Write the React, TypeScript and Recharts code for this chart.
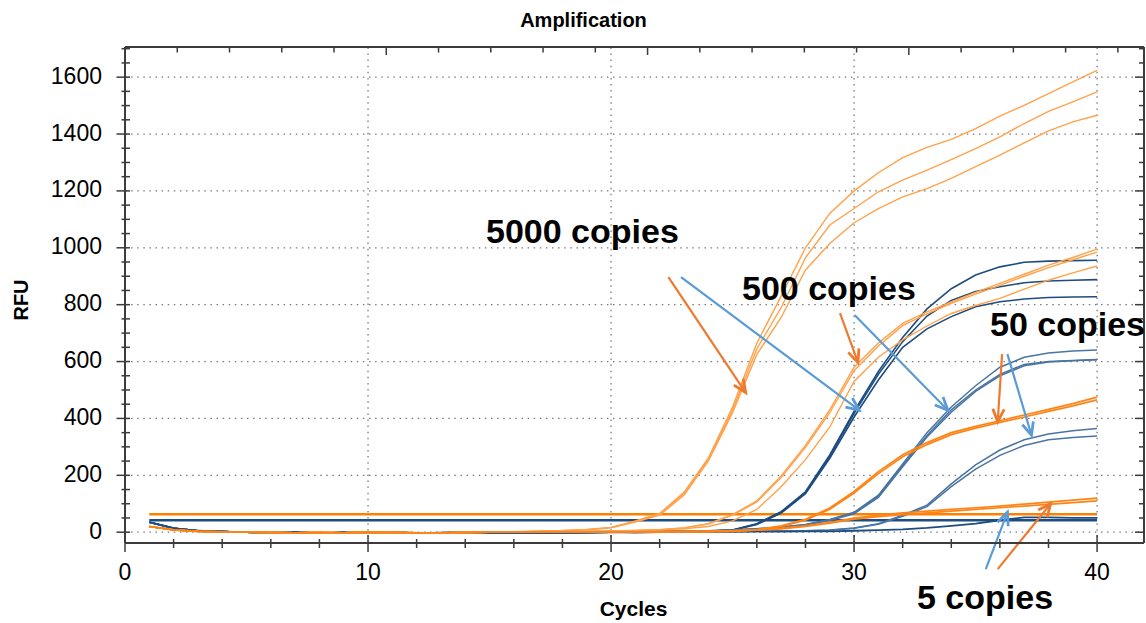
import React from "react";
import { LineChart, Line, XAxis, YAxis, ReferenceLine } from "recharts";

// x categories (cycle numbers)
const CYCLES = [
  1, 2, 3, 4, 5, 6, 7, 8, 9, 10, 11, 12, 13, 14, 15, 16, 17, 18, 19, 20,
  21, 22, 23, 24, 25, 26, 27, 28, 29, 30, 31, 32, 33, 34, 35, 36, 37, 38, 39, 40,
];

// shared early baseline, cycles 1..15
const BASE_BLUE = [35, 14, 5, 2, 0, -2, 0, -3, -1, -2, 0, -3, -2, -1, -2];
const BASE_ORANGE = [20, 8, 3, 1, 0, -1, -2, -1, -2, 0, -1, -2, -2, -1, 0];

// curves, cycles 16..40
// 5000 copies, orange
const A1 = [2, 4, 6, 10, 17, 40, 66, 140, 260, 440, 665, 830, 1000, 1121, 1200, 1264, 1317, 1353, 1381, 1419, 1463, 1501, 1542, 1583, 1624];
const A2 = [1, 3, 5, 9, 16, 38, 63, 136, 255, 430, 645, 790, 965, 1080, 1138, 1197, 1238, 1273, 1310, 1349, 1390, 1437, 1480, 1513, 1548];
const A3 = [1, 3, 5, 8, 15, 36, 60, 130, 250, 420, 625, 755, 922, 1015, 1088, 1138, 1179, 1208, 1244, 1285, 1326, 1369, 1411, 1443, 1466];
// 5000 copies, blue
const B1 = [-2, -1, -2, -1, 0, 0, 1, 2, 3, 8, 30, 72, 142, 272, 425, 565, 685, 785, 856, 904, 933, 949, 953, 955, 956];
const B2 = [-2, -1, -2, -1, 0, 0, 1, 2, 3, 8, 29, 70, 140, 268, 418, 555, 670, 760, 815, 846, 863, 877, 883, 886, 888];
const B3 = [-2, -1, -2, -1, 0, 0, 1, 2, 3, 7, 27, 67, 135, 260, 405, 535, 650, 715, 758, 793, 810, 820, 825, 827, 828];
// 500 copies, orange
const C1 = [0, 1, 2, 3, 4, 6, 9, 15, 30, 62, 110, 198, 305, 430, 580, 665, 734, 775, 810, 843, 875, 907, 939, 966, 995];
const C2 = [0, 1, 2, 3, 4, 6, 9, 15, 29, 60, 106, 192, 298, 420, 568, 655, 726, 768, 805, 837, 868, 900, 930, 958, 985];
const C3 = [0, 1, 2, 3, 4, 5, 8, 12, 20, 40, 80, 160, 255, 370, 530, 615, 676, 725, 769, 797, 822, 855, 886, 912, 936];
// 500 copies, blue
const D1 = [-2, -1, 0, -1, 0, 1, 2, 3, 5, 8, 12, 18, 27, 45, 70, 130, 240, 350, 440, 515, 580, 615, 630, 637, 641];
const D2 = [-2, -1, 0, -1, 0, 1, 2, 3, 5, 8, 12, 17, 26, 43, 68, 126, 235, 340, 430, 500, 555, 590, 600, 604, 607];
const D3 = [-2, -1, 0, -1, 0, 1, 2, 3, 4, 7, 11, 16, 25, 41, 65, 122, 230, 335, 422, 495, 550, 585, 598, 603, 606];
// 50 copies, orange
const E1 = [0, 0, 1, 0, 1, 1, 2, 2, 3, 5, 9, 22, 45, 85, 143, 213, 272, 315, 350, 372, 392, 412, 432, 452, 475];
const E2 = [0, 0, 1, 0, 1, 1, 2, 2, 3, 5, 8, 20, 42, 81, 138, 206, 265, 308, 343, 366, 386, 405, 425, 444, 465];
// 50 copies, blue
const F1 = [-1, 0, -1, 0, 0, 1, 1, 2, 2, 3, 3, 4, 5, 8, 15, 30, 60, 95, 170, 237, 289, 325, 345, 357, 365];
const F2 = [-1, 0, -1, 0, 0, 1, 1, 2, 2, 3, 3, 4, 5, 7, 14, 28, 56, 90, 160, 222, 270, 305, 325, 333, 338];
// 5 copies, orange
const G1 = [0, 0, 0, 1, 1, 1, 1, 2, 2, 4, 8, 14, 22, 35, 50, 60, 68, 74, 80, 86, 92, 99, 106, 113, 120];
const G2 = [0, 0, 0, 1, 1, 1, 1, 2, 2, 3, 7, 12, 20, 32, 46, 55, 62, 68, 74, 80, 86, 92, 98, 104, 110];
// 5 copies, blue
const H1 = [-2, -1, -2, -1, 0, -1, 0, 0, 1, 1, 2, 2, 3, 3, 5, 7, 10, 15, 22, 30, 42, 52, 52, 50, 50];

// flat lines across the run
const ORANGE_FLAT = 63;
const BLUE_FLAT = 42;

const X_TICKS = [0, 2, 4, 6, 8, 10, 12, 14, 16, 18, 20, 22, 24, 26, 28, 30, 32, 34, 36, 38, 40];
const Y_TICKS = [
  0, 50, 100, 150, 200, 250, 300, 350, 400, 450, 500, 550, 600, 650, 700, 750, 800, 850,
  900, 950, 1000, 1050, 1100, 1150, 1200, 1250, 1300, 1350, 1400, 1450, 1500, 1550, 1600, 1650, 1700,
];
const GRID_X = [10, 20, 30, 40];
const GRID_Y = [0, 200, 400, 600, 800, 1000, 1200, 1400, 1600];

// annotation arrows, in data coordinates
const ARROWS = [
  { kind: "orange", from: [22.36, 897], to: [25.54, 491] },
  { kind: "blue", from: [22.88, 897], to: [30.21, 429] },
  { kind: "orange", from: [29.42, 770], to: [30.16, 597] },
  { kind: "blue", from: [30.02, 764], to: [33.86, 429] },
  { kind: "orange", from: [36.09, 626], to: [35.91, 388] },
  { kind: "blue", from: [36.31, 626], to: [37.3, 341] },
  { kind: "blue", from: [35.42, -130], to: [36.31, 70] },
  { kind: "orange", from: [35.91, -130], to: [38.09, 100] },
];

const LABELS = [
  { text: "5000 copies", x: 486, y: 243 },
  { text: "500 copies", x: 742, y: 300 },
  { text: "50 copies", x: 990, y: 336 },
  { text: "5 copies", x: 917, y: 609 },
];

const ORANGE = "#FFA24A";
const ORANGE_DK = "#FF8416";
const BLUE_DK = "#1D4C80";
const BLUE_MID = "#4A74A2";
const ARROW_COLORS: Record<string, string> = { orange: "#EE7A2E", blue: "#5B9BD5" };

const SERIES = [
  { key: "B1", values: B1, base: BASE_BLUE, color: BLUE_DK, w: 1.6 },
  { key: "B2", values: B2, base: BASE_BLUE, color: BLUE_DK, w: 1.6 },
  { key: "B3", values: B3, base: BASE_BLUE, color: BLUE_DK, w: 1.6 },
  { key: "D1", values: D1, base: BASE_BLUE, color: BLUE_MID, w: 1.5 },
  { key: "D2", values: D2, base: BASE_BLUE, color: BLUE_MID, w: 1.5 },
  { key: "D3", values: D3, base: BASE_BLUE, color: BLUE_MID, w: 1.5 },
  { key: "F1", values: F1, base: BASE_BLUE, color: BLUE_MID, w: 1.5 },
  { key: "F2", values: F2, base: BASE_BLUE, color: BLUE_MID, w: 1.5 },
  { key: "H1", values: H1, base: BASE_BLUE, color: BLUE_DK, w: 1.8 },
  { key: "A1", values: A1, base: BASE_ORANGE, color: ORANGE, w: 1.4 },
  { key: "A2", values: A2, base: BASE_ORANGE, color: ORANGE, w: 1.4 },
  { key: "A3", values: A3, base: BASE_ORANGE, color: ORANGE, w: 1.4 },
  { key: "C1", values: C1, base: BASE_ORANGE, color: ORANGE, w: 1.4 },
  { key: "C2", values: C2, base: BASE_ORANGE, color: ORANGE, w: 1.4 },
  { key: "C3", values: C3, base: BASE_ORANGE, color: ORANGE, w: 1.4 },
  { key: "E1", values: E1, base: BASE_ORANGE, color: ORANGE_DK, w: 1.7 },
  { key: "E2", values: E2, base: BASE_ORANGE, color: ORANGE_DK, w: 1.7 },
  { key: "G1", values: G1, base: BASE_ORANGE, color: ORANGE_DK, w: 1.7 },
  { key: "G2", values: G2, base: BASE_ORANGE, color: ORANGE_DK, w: 1.7 },
];

const data = CYCLES.map((cycle, i) => {
  const row: Record<string, number> = { cycle };
  SERIES.forEach((s) => {
    row[s.key] = i < s.base.length ? s.base[i] : s.values[i - s.base.length];
  });
  return row;
});

const W = 1146;
const H = 623;
const PLOT = { left: 125, right: 1144, top: 47, bottom: 543 };
const AXIS = "#3c3c3c";
const FONT = '"Liberation Sans", Arial, Helvetica, sans-serif';

const BottomTick = (props: any) => {
  const { x, payload } = props;
  const v = payload.value;
  const major = v % 10 === 0;
  return (
    <g>
      <line x1={x} x2={x} y1={PLOT.bottom - (major ? 8 : 4)} y2={PLOT.bottom + (major ? 9 : 5)} stroke={AXIS} strokeWidth={1.5} />
      {major && (
        <text x={x} y={PLOT.bottom + 37} textAnchor="middle" fontSize={23} fontFamily={FONT} fill="#000">
          {v}
        </text>
      )}
    </g>
  );
};

const TopTick = (props: any) => {
  const { x, payload } = props;
  const major = payload.value % 10 === 0;
  return <line x1={x} x2={x} y1={PLOT.top} y2={PLOT.top + (major ? 8 : 5.5)} stroke={AXIS} strokeWidth={1.5} />;
};

const LeftTick = (props: any) => {
  const { y, payload } = props;
  const v = payload.value;
  const major = v % 200 === 0;
  return (
    <g>
      <line x1={PLOT.left - (major ? 8.5 : 3.5)} x2={PLOT.left + 5} y1={y} y2={y} stroke={AXIS} strokeWidth={1.5} />
      {major && (
        <text x={102} y={y + 6.5} textAnchor="end" fontSize={23} fontFamily={FONT} fill="#000">
          {v}
        </text>
      )}
    </g>
  );
};

const RightTick = (props: any) => {
  const { y, payload } = props;
  const major = payload.value % 200 === 0;
  return <line x1={PLOT.right - (major ? 9 : 5)} x2={PLOT.right} y1={y} y2={y} stroke={AXIS} strokeWidth={1.5} />;
};

const arrowShape = (color: string) => (props: any) => {
  const { x1, y1, x2, y2 } = props;
  const ang = Math.atan2(y2 - y1, x2 - x1);
  const len = 14;
  const spread = 0.42;
  const a1 = ang + Math.PI - spread;
  const a2 = ang + Math.PI + spread;
  const pts = `${x2 + len * Math.cos(a1)},${y2 + len * Math.sin(a1)} ${x2},${y2} ${x2 + len * Math.cos(a2)},${y2 + len * Math.sin(a2)}`;
  return (
    <g>
      <line x1={x1} y1={y1} x2={x2} y2={y2} stroke={color} strokeWidth={2.2} />
      <polyline points={pts} fill="none" stroke={color} strokeWidth={2.8} />
    </g>
  );
};

export default function App() {
  return (
    <div style={{ position: "absolute", left: 0, top: 0, width: W, height: H, background: "#fff" }}>
      <LineChart width={W} height={H} data={data} margin={{ top: 30, right: 0, bottom: 50, left: 65 }}>
        <XAxis
          dataKey="cycle"
          type="number"
          domain={[0, 41.93]}
          ticks={X_TICKS}
          interval={0}
          height={30}
          tickLine={false}
          axisLine={{ stroke: AXIS, strokeWidth: 2 }}
          tick={BottomTick}
          allowDataOverflow
        />
        <XAxis
          xAxisId="top"
          orientation="top"
          type="number"
          domain={[0, 41.93]}
          ticks={X_TICKS}
          interval={0}
          height={17}
          tickLine={false}
          axisLine={{ stroke: AXIS, strokeWidth: 2 }}
          tick={TopTick}
          allowDataOverflow
        />
        <YAxis
          type="number"
          domain={[-38, 1706]}
          ticks={Y_TICKS}
          interval={0}
          width={60}
          tickLine={false}
          axisLine={{ stroke: AXIS, strokeWidth: 2 }}
          tick={LeftTick}
          allowDataOverflow
        />
        <YAxis
          yAxisId="right"
          orientation="right"
          type="number"
          domain={[-38, 1706]}
          ticks={Y_TICKS}
          interval={0}
          width={2}
          tickLine={false}
          axisLine={{ stroke: AXIS, strokeWidth: 2 }}
          tick={RightTick}
          allowDataOverflow
        />
        {GRID_X.map((x) => (
          <ReferenceLine key={"gx" + x} x={x} stroke="#7a7a7a" strokeWidth={1.3} strokeDasharray="1.5 4.6" />
        ))}
        {GRID_Y.map((y) => (
          <ReferenceLine key={"gy" + y} y={y} stroke="#7a7a7a" strokeWidth={1.3} strokeDasharray="1.5 4.6" />
        ))}
        <ReferenceLine
          segment={[{ x: 1, y: ORANGE_FLAT }, { x: 40, y: ORANGE_FLAT }]}
          stroke="#FF8000"
          strokeWidth={2.6}
        />
        <ReferenceLine
          segment={[{ x: 1, y: BLUE_FLAT }, { x: 40, y: BLUE_FLAT }]}
          stroke={BLUE_DK}
          strokeWidth={2.6}
        />
        {SERIES.map((s) => (
          <Line
            key={s.key}
            dataKey={s.key}
            type="linear"
            stroke={s.color}
            strokeWidth={s.w}
            dot={false}
            activeDot={false}
            isAnimationActive={false}
          />
        ))}
        {ARROWS.map((a, i) => (
          <ReferenceLine
            key={"ar" + i}
            segment={[{ x: a.from[0], y: a.from[1] }, { x: a.to[0], y: a.to[1] }]}
            ifOverflow="visible"
            shape={arrowShape(ARROW_COLORS[a.kind])}
          />
        ))}
      </LineChart>
      <svg width={W} height={H} style={{ position: "absolute", left: 0, top: 0, pointerEvents: "none" }}>
        <text x={583.5} y={27} textAnchor="middle" fontSize={20} fontWeight="bold" fontFamily={FONT} fill="#000">
          Amplification
        </text>
        <text x={633.5} y={616} textAnchor="middle" fontSize={21} fontWeight="bold" fontFamily={FONT} fill="#000">
          Cycles
        </text>
        <text
          x={0}
          y={0}
          transform="translate(28,300) rotate(-90)"
          textAnchor="middle"
          fontSize={20}
          fontWeight="bold"
          fontFamily={FONT}
          fill="#000"
        >
          RFU
        </text>
        {LABELS.map((l) => (
          <text key={l.text} x={l.x} y={l.y} fontSize={34} fontWeight="bold" fontFamily={FONT} fill="#000">
            {l.text}
          </text>
        ))}
      </svg>
    </div>
  );
}
